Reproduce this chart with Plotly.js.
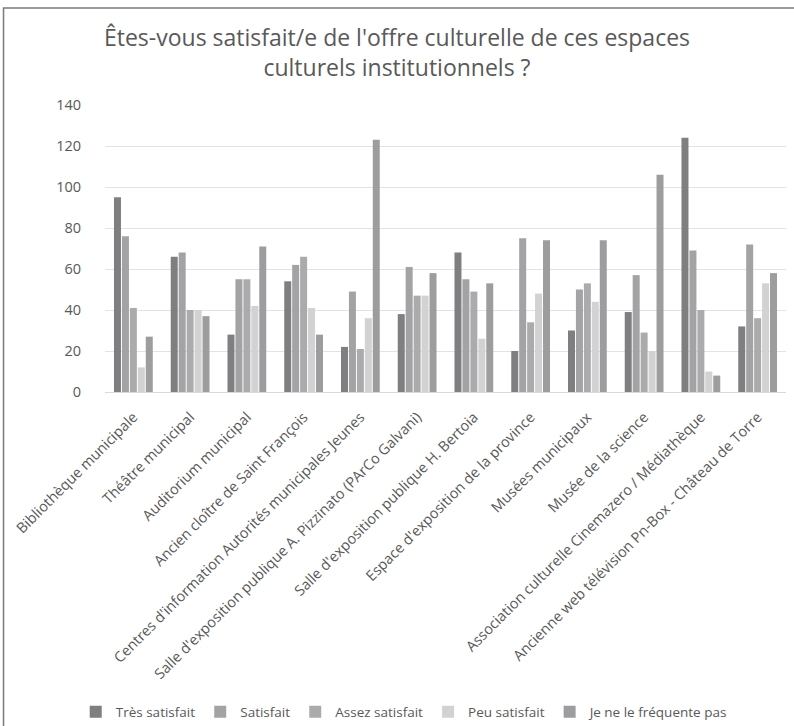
<!DOCTYPE html>
<html>
<head>
<meta charset="utf-8">
<script src="https://cdn.plot.ly/plotly-3.0.1.min.js"></script>
<style>html,body{margin:0;padding:0;background:#fff;}#chart{width:794px;height:726px;}</style>
</head>
<body>
<div id="chart"></div>
<script>
const categories = [
  "Bibliothèque municipale",
  "Théâtre municipal",
  "Auditorium municipal",
  "Ancien cloître de Saint François",
  "Centres d'information Autorités municipales Jeunes",
  "Salle d'exposition publique A. Pizzinato (PArCo Galvani)",
  "Salle d'exposition publique H. Bertoia",
  "Espace d'exposition de la province",
  "Musées municipaux",
  "Musée de la science",
  "Association culturelle Cinemazero / Médiathèque",
  "Ancienne web télévision Pn-Box - Château de Torre"
];
const seriesNames = ["Très satisfait", "Satisfait", "Assez satisfait", "Peu satisfait", "Je ne le fréquente pas"];
const tresSatisfait = [95, 66, 28, 54, 22, 38, 68, 20, 30, 39, 124, 32];
const satisfait     = [76, 68, 55, 62, 49, 61, 55, 75, 50, 57, 69, 72];
const assezSatisfait= [41, 40, 55, 66, 21, 47, 49, 34, 53, 29, 40, 36];
const peuSatisfait  = [12, 40, 42, 41, 36, 47, 26, 48, 44, 20, 10, 53];
const neFrequente   = [27, 37, 71, 28, 123, 58, 53, 74, 74, 106, 8, 58];
const yTicks = [0, 20, 40, 60, 80, 100, 120, 140];

const values = [tresSatisfait, satisfait, assezSatisfait, peuSatisfait, neFrequente];
const colors = ["#7f7f81", "#a3a3a5", "#ababad", "#d2d2d2", "#9d9d9f"];

const traces = seriesNames.map((n, i) => ({
  type: "bar",
  name: n,
  x: categories,
  y: values[i],
  marker: {color: colors[i]},
  hoverinfo: "x+y+name"
}));

const layout = {
  width: 794, height: 726,
  margin: {l: 105, r: 8, t: 105, b: 334, autoexpand: false},
  paper_bgcolor: "#ffffff",
  plot_bgcolor: "#ffffff",
  font: {family: "Open Sans, sans-serif", color: "#595959"},
  title: {
    text: "Êtes-vous satisfait/e de l'offre culturelle de ces espaces<br>culturels institutionnels ?",
    font: {size: 23, color: "#595959", family: "Open Sans, sans-serif"},
    x: 0.5, xanchor: "center", y: 0.936, yanchor: "top"
  },
  barmode: "group",
  bargap: 0.3,
  bargroupgap: 0.12,
  xaxis: {
    type: "category",
    tickangle: -45,
    tickfont: {size: 14.5, color: "#595959"},
    showgrid: false,
    showline: true,
    linecolor: "#d9d9d9",
    linewidth: 1,
    ticks: "",
    ticklabelstandoff: 10,
    automargin: false
  },
  yaxis: {
    range: [0, 140],
    tickvals: yTicks,
    ticktext: yTicks.map(String),
    tickfont: {size: 14.5, color: "#595959"},
    showgrid: true,
    gridcolor: "#e3e3e3",
    gridwidth: 1,
    zeroline: false,
    showline: false,
    ticks: "",
    ticklabelstandoff: 23,
    automargin: false
  },
  showlegend: true,
  legend: {
    orientation: "h",
    x: -0.043, xanchor: "left",
    y: -1.115, yanchor: "middle",
    font: {size: 13.5, color: "#595959"},
    itemwidth: 30,
    tracegroupgap: 0
  },
  shapes: [
    {type: "rect", xref: "paper", yref: "paper",
     x0: -0.149, x1: 1.1, y0: -1.3, y1: 1.338,
     line: {color: "#7a7a7a", width: 1.5}, fillcolor: "rgba(0,0,0,0)", layer: "below"}
  ]
};

Plotly.newPlot("chart", traces, layout, {displayModeBar: false, staticPlot: true});
</script>
</body>
</html>
